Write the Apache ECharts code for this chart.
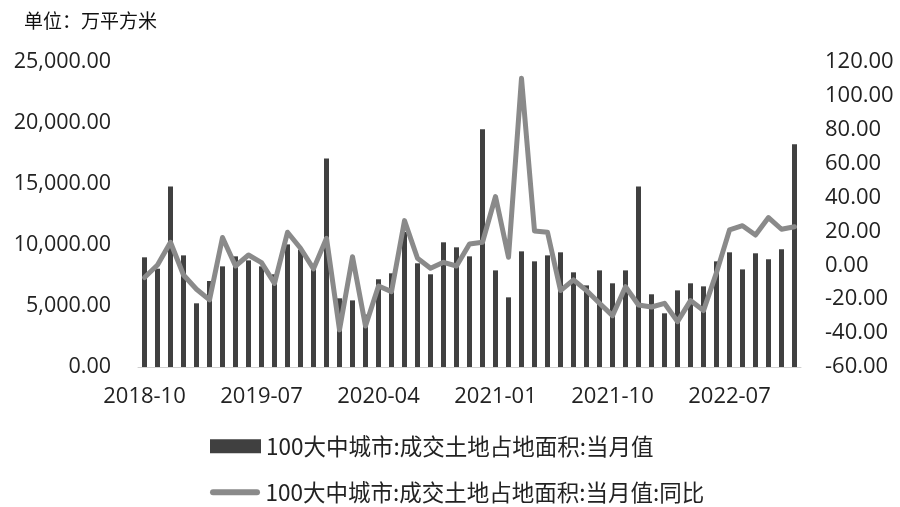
<!DOCTYPE html>
<html><head><meta charset="utf-8">
<script src="https://cdn.jsdelivr.net/npm/echarts@6/dist/echarts.min.js"></script>
<style>html,body{margin:0;padding:0;background:#fff}#c{width:900px;height:507px}</style>
</head><body><div id="c"></div>
<script>
const categories = ["2018-10","2018-11","2018-12","2019-01","2019-02","2019-03","2019-04","2019-05","2019-06","2019-07","2019-08","2019-09","2019-10","2019-11","2019-12","2020-01","2020-02","2020-03","2020-04","2020-05","2020-06","2020-07","2020-08","2020-09","2020-10","2020-11","2020-12","2021-01","2021-02","2021-03","2021-04","2021-05","2021-06","2021-07","2021-08","2021-09","2021-10","2021-11","2021-12","2022-01","2022-02","2022-03","2022-04","2022-05","2022-06","2022-07","2022-08","2022-09","2022-10","2022-11","2022-12"];
const areaValues = [8990,8060,14800,9150,5220,7050,8250,9070,8740,8250,7600,10050,9620,8060,17100,5630,5460,4300,7190,7680,11070,8500,7600,10220,9810,9070,19480,7920,5710,9480,8660,9150,9400,7760,6690,7920,6860,7920,14800,5960,4400,6280,6860,6610,8660,9400,8000,9320,8830,9650,18250];
const yoyValues = [-7.2,0.2,13.6,-5.7,-14.1,-20.4,16.4,-0.4,6.1,1.6,-10.6,19.5,10.1,-2.1,16.0,-38.1,5.1,-35.8,-12.2,-15.5,26.4,4.2,-1.7,1.8,-0.4,12.6,13.6,40.6,4.8,110.4,20.3,19.5,-14.9,-8.6,-14.9,-22.4,-29.7,-12.6,-23.4,-24.6,-22.4,-33.2,-20.8,-26.7,-4.3,20.9,23.4,17.9,28.2,21.3,22.8];
const seriesNames = ["100大中城市:成交土地占地面积:当月值","100大中城市:成交土地占地面积:当月值:同比"];
const unitText = "单位：万平方米";

const CJK = '"Noto Sans CJK SC", "Noto Sans", sans-serif';
const NUM = '"Open Sans", "Noto Sans", sans-serif';
const legendText = {fontFamily: CJK, fontSize: 22.5, color: '#222'};
const chart = echarts.init(document.getElementById('c'), null, {renderer: 'canvas'});
chart.setOption({
  animation: false,
  backgroundColor: '#fff',
  title: {text: unitText, left: 19, top: 6, textStyle: {fontFamily: CJK, fontSize: 19, fontWeight: 'normal', color: '#111'}},
  legend: [
    {left: 205, top: 430, itemWidth: 51, itemHeight: 14, itemGap: 4,
     textStyle: legendText,
     data: [{name: seriesNames[0], icon: 'rect'}]},
    {left: 205, top: 476, itemWidth: 51, itemHeight: 6, itemGap: 4,
     textStyle: legendText,
     data: [{name: seriesNames[1], icon: 'path://M3,0 L47,0 A3,3 0 0 1 47,6 L3,6 A3,3 0 0 1 3,0 Z'}]}
  ],
  grid: {left: 138, right: 99, top: 62, bottom: 140},
  xAxis: {
    type: 'category', data: categories,
    axisLine: {lineStyle: {color: '#d0d0d0', width: 1}},
    axisTick: {show: false},
    axisLabel: {interval: 8, fontFamily: NUM, fontSize: 22, color: '#222', margin: 19}
  },
  yAxis: [
    {type: 'value', min: 0, max: 25000, interval: 5000,
     splitLine: {show: false}, axisLine: {show: false}, axisTick: {show: false},
     axisLabel: {fontFamily: NUM, fontSize: 21.5, color: '#222', margin: 27,
       formatter: v => v.toLocaleString('en-US', {minimumFractionDigits: 2, maximumFractionDigits: 2})}},
    {type: 'value', min: -60, max: 120, interval: 20,
     splitLine: {show: false}, axisLine: {show: false}, axisTick: {show: false},
     axisLabel: {fontFamily: NUM, fontSize: 22, color: '#222', margin: 24,
       formatter: v => v.toFixed(2)}}
  ],
  series: [
    {name: seriesNames[0], type: 'bar', data: areaValues, yAxisIndex: 0, barWidth: 5,
     itemStyle: {color: '#404040'}},
    {name: seriesNames[1], type: 'line', data: yoyValues, yAxisIndex: 1, showSymbol: false, symbol: 'none',
     lineStyle: {color: '#8a8a8a', width: 5, cap: 'round', join: 'round'}, itemStyle: {color: '#8a8a8a'}}
  ]
});
</script></body></html>
